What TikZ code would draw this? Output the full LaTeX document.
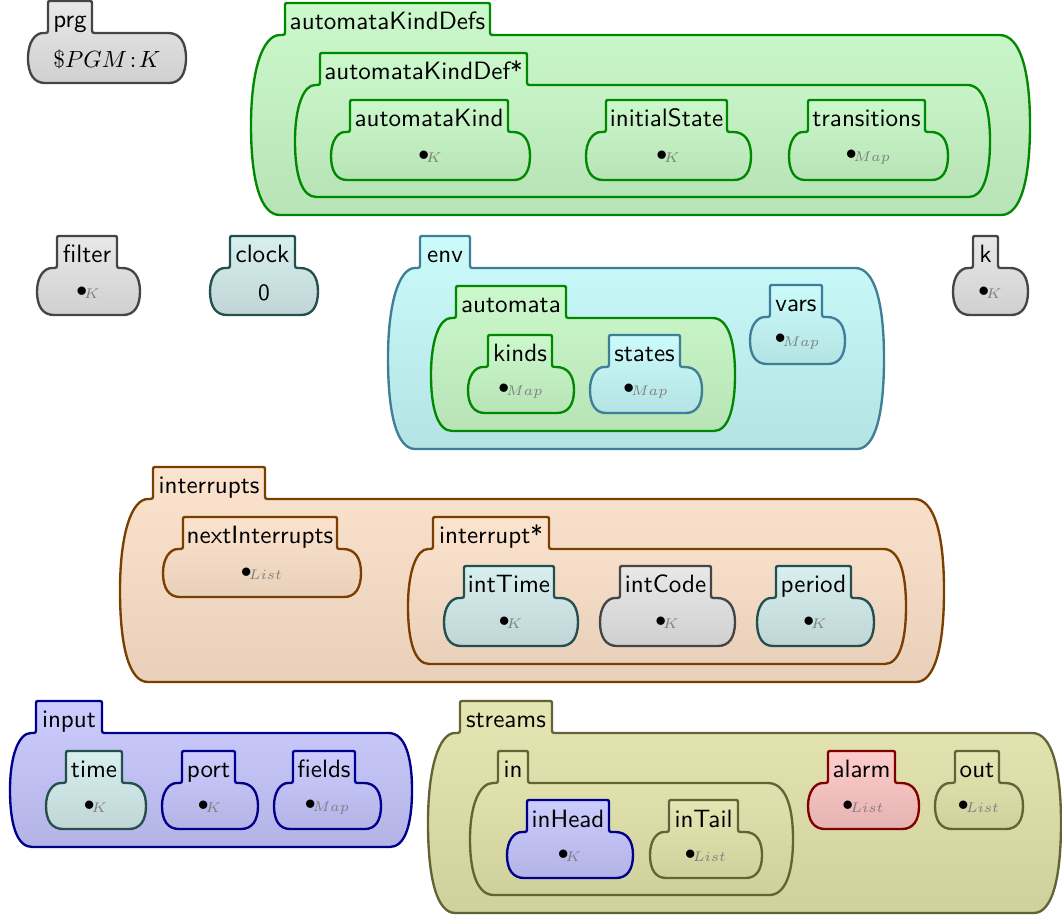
\documentclass[tikz,border=0pt]{standalone}
\usepackage{amsmath, amssymb}
\usepackage{xcolor}
\usepackage{tikz}
\usetikzlibrary{calc}

\definecolor{grayTop}{HTML}{E8E8E8}
\definecolor{grayBot}{HTML}{D0D0D0}
\definecolor{grayLine}{HTML}{454545}
\definecolor{greenTop}{HTML}{CCF9CC}
\definecolor{greenBot}{HTML}{B7E3B7}
\definecolor{greenLine}{HTML}{008800}
\definecolor{cyanTop}{HTML}{CCFBFB}
\definecolor{cyanBot}{HTML}{B3E3E3}
\definecolor{cyanLine}{HTML}{3E7F98}
\definecolor{tealTop}{HTML}{D8EFEF}
\definecolor{tealBot}{HTML}{C0D6D6}
\definecolor{tealLine}{HTML}{234F4F}
\definecolor{peachTop}{HTML}{FCE3CD}
\definecolor{peachBot}{HTML}{E9D0BB}
\definecolor{peachLine}{HTML}{7A3E00}
\definecolor{blueTop}{HTML}{CCCCFF}
\definecolor{blueBot}{HTML}{B3B3E6}
\definecolor{blueLine}{HTML}{00008B}
\definecolor{oliveTop}{HTML}{E6E6B4}
\definecolor{oliveBot}{HTML}{D0D09C}
\definecolor{oliveLine}{HTML}{636338}
\definecolor{pinkTop}{HTML}{FFCCCC}
\definecolor{pinkBot}{HTML}{E6B3B3}
\definecolor{pinkLine}{HTML}{800000}

\tikzset{
  kgray/.style={top color=grayTop, bottom color=grayBot, draw=grayLine},
  kgreen/.style={top color=greenTop, bottom color=greenBot, draw=greenLine},
  kcyan/.style={top color=cyanTop, bottom color=cyanBot, draw=cyanLine},
  kteal/.style={top color=tealTop, bottom color=tealBot, draw=tealLine},
  kpeach/.style={top color=peachTop, bottom color=peachBot, draw=peachLine},
  kblue/.style={top color=blueTop, bottom color=blueBot, draw=blueLine},
  kolive/.style={top color=oliveTop, bottom color=oliveBot, draw=oliveLine},
  kpink/.style={top color=pinkTop, bottom color=pinkBot, draw=pinkLine},
  tablabel/.style={font=\fontsize{10.7}{13}\sffamily, inner sep=0pt},
  kval/.style={inner sep=0pt, font=\small},
}

% cell: name, colour, body x1 y1 x2 y2, tab left, tab right, label
\newcommand{\kcell}[9]{%
  \pgfmathsetmacro{\kIn}{#7-#3}%
  \pgfmathsetmacro{\kMid}{(#4+#6)/2}%
  \pgfmathsetmacro{\kHt}{(#6-#4)/2}%
  \draw[#2, line width=1pt]
    (#3, \kMid) .. controls (#3, \kMid-0.62*\kHt) and (#3+0.35*\kIn, #4) .. (#7-5, #4)
    .. controls (#7, #4) .. (#7, #4-5)
    -- (#7, #4-28) .. controls (#7, #4-32) .. (#7+4, #4-32)
    -- (#8-4, #4-32) .. controls (#8, #4-32) .. (#8, #4-28)
    -- (#8, #4-5) .. controls (#8, #4) .. (#8+5, #4)
    -- (#5-0.9*\kIn, #4) .. controls (#5-0.3*\kIn, #4) and (#5, \kMid-0.62*\kHt) .. (#5, \kMid)
    .. controls (#5, \kMid+0.62*\kHt) and (#5-0.28*\kIn, #6) .. (#5-0.85*\kIn, #6)
    -- (#3+0.85*\kIn, #6) .. controls (#3+0.28*\kIn, #6) and (#3, \kMid+0.62*\kHt) .. cycle;
  \coordinate (#1-body) at ({(#3+#5)/2}, {\kMid+1});
  \node[tablabel, anchor=base] (#1) at ({(#7+#8)/2}, #4-5) {#9};
}
\newcommand{\kvar}[1]{$\bullet_{\!\textcolor{gray}{#1}}$}

\begin{document}
\begin{tikzpicture}[x=0.015cm, y=-0.015cm]
  \useasboundingbox (0,0) rectangle (1062,918);

  % top row
  \kcell{prg}{kgray}{28}{33}{186}{83}{48}{92}{prg}
  \node[kval, font=\normalsize] (prg-val) at (prg-body) {$\$PGM\!:\!K$};

  \kcell{defs}{kgreen}{251}{35}{1030}{215}{285}{490}{automataKindDefs}
  \kcell{def}{kgreen}{295}{85}{990}{197}{320}{527}{automataKindDef*}
  \kcell{kind}{kgreen}{331}{132}{530}{180}{350}{508}{automataKind}
  \node[kval] (kind-val) at (kind-body) {\kvar{K}};
  \kcell{init}{kgreen}{586}{132}{751}{180}{606}{727}{initialState}
  \node[kval] (init-val) at (init-body) {\kvar{K}};
  \kcell{trans}{kgreen}{789}{132}{948}{180}{808}{925}{transitions}
  \node[kval] (trans-val) at (trans-body) {\kvar{Map}};

  % second row
  \kcell{filter}{kgray}{37}{268}{140}{315}{57}{117}{filter}
  \node[kval] (filter-val) at (filter-body) {\kvar{K}};
  \kcell{clock}{kteal}{210}{268}{318}{315}{230}{295}{clock}
  \node[kval, font=\sffamily] (clock-val) at (clock-body) {0};
  \kcell{env}{kcyan}{388}{268}{884}{449}{420}{470}{env}
  \kcell{automata}{kgreen}{431}{318}{735}{431}{456}{566}{automata}
  \kcell{kinds}{kgreen}{468}{367}{574}{413}{488}{552}{kinds}
  \node[kval] (kinds-val) at (kinds-body) {\kvar{Map}};
  \kcell{states}{kcyan}{590}{367}{702}{413}{609}{680}{states}
  \node[kval] (states-val) at (states-body) {\kvar{Map}};
  \kcell{vars}{kcyan}{750}{317}{845}{364}{770}{822}{vars}
  \node[kval] (vars-val) at (vars-body) {\kvar{Map}};
  \kcell{k}{kgray}{953}{268}{1028}{315}{973}{998}{k}
  \node[kval] (k-val) at (k-body) {\kvar{K}};

  % interrupts
  \kcell{intr}{kpeach}{120}{499}{944}{682}{153}{265}{interrupts}
  \kcell{next}{kpeach}{163}{549}{361}{597}{183}{337}{nextInterrupts}
  \node[kval] (next-val) at (next-body) {\kvar{List}};
  \kcell{int}{kpeach}{408}{549}{906}{664}{433}{549}{interrupt*}
  \kcell{itime}{kteal}{444}{598}{578}{646}{464}{554}{intTime}
  \node[kval] (itime-val) at (itime-body) {\kvar{K}};
  \kcell{icode}{kgray}{600}{598}{735}{646}{620}{711}{intCode}
  \node[kval] (icode-val) at (icode-body) {\kvar{K}};
  \kcell{period}{kteal}{757}{598}{874}{646}{776}{851}{period}
  \node[kval] (period-val) at (period-body) {\kvar{K}};

  % input
  \kcell{input}{kblue}{10}{733}{412}{847}{36}{102}{input}
  \kcell{time}{kteal}{46}{783}{146}{829}{66}{122}{time}
  \node[kval] (time-val) at (time-body) {\kvar{K}};
  \kcell{port}{kblue}{162}{783}{258}{829}{182}{235}{port}
  \node[kval] (port-val) at (port-body) {\kvar{K}};
  \kcell{fields}{kblue}{274}{783}{381}{829}{293}{355}{fields}
  \node[kval] (fields-val) at (fields-body) {\kvar{Map}};

  % streams
  \kcell{streams}{kolive}{428}{733}{1061}{913}{460}{552}{streams}
  \kcell{in}{kolive}{470}{783}{793}{895}{498}{528}{in}
  \kcell{head}{kblue}{507}{832}{633}{878}{527}{609}{inHead}
  \node[kval] (head-val) at (head-body) {\kvar{K}};
  \kcell{tail}{kolive}{650}{832}{762}{878}{669}{738}{inTail}
  \node[kval] (tail-val) at (tail-body) {\kvar{List}};
  \kcell{alarm}{kpink}{808}{783}{919}{829}{828}{895}{alarm}
  \node[kval] (alarm-val) at (alarm-body) {\kvar{List}};
  \kcell{out}{kolive}{935}{783}{1023}{829}{955}{999}{out}
  \node[kval] (out-val) at (out-body) {\kvar{List}};
\end{tikzpicture}
\end{document}
